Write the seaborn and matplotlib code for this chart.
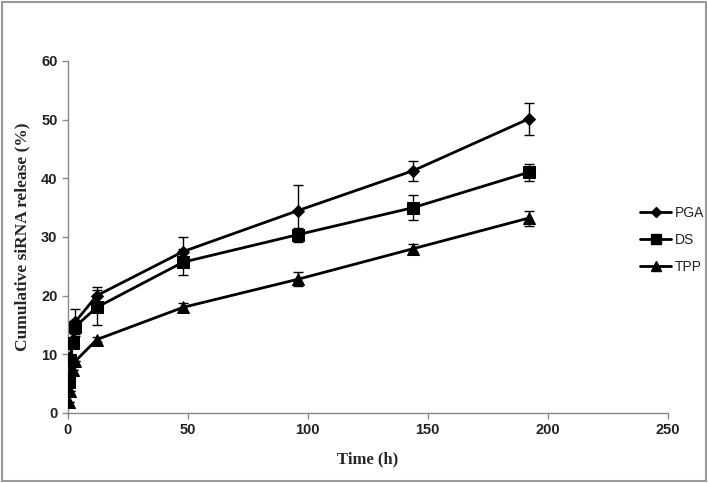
import numpy as np
import pandas as pd
import matplotlib
matplotlib.use("Agg")
import matplotlib.pyplot as plt
import seaborn as sns
from matplotlib.patches import Rectangle
from matplotlib.lines import Line2D

time = [0.5, 1, 2, 3, 12, 48, 96, 144, 192]
pga = [5.0, 9.5, 12.5, 15.5, 20.0, 27.5, 34.5, 41.3, 50.1]
pga_err = [0.0, 0.0, 0.0, 2.3, 1.4, 2.5, 4.4, 1.7, 2.8]
ds = [5.3, 9.0, 12.0, 14.7, 18.0, 25.7, 30.4, 35.0, 41.0]
ds_err = [0.5, 0.5, 0.6, 1.2, 3.0, 2.2, 1.2, 2.2, 1.4]
tpp = [1.8, 3.7, 7.3, 8.8, 12.5, 18.0, 22.8, 28.0, 33.2]
tpp_err = [0.0, 0.0, 0.0, 0.0, 0.4, 0.8, 1.2, 0.8, 1.3]
series = ["PGA", "DS", "TPP"]
x_ticks = [0, 50, 100, 150, 200, 250]
y_ticks = [0, 10, 20, 30, 40, 50, 60]

df = pd.DataFrame({
    "time": time * 3,
    "value": pga + ds + tpp,
    "err": pga_err + ds_err + tpp_err,
    "series": ["PGA"] * len(time) + ["DS"] * len(time) + ["TPP"] * len(time),
})

sns.set_style("white")
fig = plt.figure(figsize=(7.08, 4.83), dpi=100)
ax = fig.add_axes([0.096, 0.145, 0.847, 0.729])

markers = {"PGA": "D", "DS": "s", "TPP": "^"}
msizes = {"PGA": 6, "DS": 8, "TPP": 8}
for name in series:
    sub = df[df["series"] == name]
    ax.errorbar(sub["time"], sub["value"], yerr=sub["err"], fmt="none",
                ecolor="black", elinewidth=1.0, capsize=3.5, capthick=1.0, zorder=2)
    sns.lineplot(data=sub, x="time", y="value", ax=ax, color="black",
                 linewidth=2.0, marker=markers[name], markersize=msizes[name],
                 markeredgecolor="black", markerfacecolor="black",
                 legend=False, zorder=3)

ax.set_xlim(0, 250)
ax.set_ylim(0, 60)
ax.set_xticks(x_ticks)
ax.set_yticks(y_ticks)
ax.tick_params(axis="both", direction="out", length=4, width=1, color="#888888",
               labelsize=10.5, bottom=True, left=True, labelcolor="#222222")
for lab in ax.get_xticklabels() + ax.get_yticklabels():
    lab.set_fontweight("bold")
    lab.set_family("Liberation Sans")
for s in ["top", "right"]:
    ax.spines[s].set_visible(False)
for s in ["left", "bottom"]:
    ax.spines[s].set_color("#888888")
    ax.spines[s].set_linewidth(1.0)

ax.set_xlabel("Time (h)", fontsize=12, fontweight="bold", family="Liberation Serif", labelpad=10)
ax.set_ylabel("Cumulative siRNA release (%)", fontsize=12.5, fontweight="bold", family="Liberation Serif", labelpad=8)

handles = [Line2D([0], [0], color="black", linewidth=2, marker=markers[n],
                  markersize=msizes[n] - 1, markerfacecolor="black") for n in series]
leg = fig.legend(handles, series, loc="center left", bbox_to_anchor=(0.887, 0.503),
                 frameon=False, prop={"family": "Liberation Sans", "size": 10},
                 handlelength=2.2, handletextpad=0.3, labelspacing=0.95)
for t in leg.get_texts():
    t.set_color("#222222")

fig.patches.append(Rectangle((0.003, 0.004), 0.994, 0.992, transform=fig.transFigure,
                             fill=False, edgecolor="#999999", linewidth=1.5))

fig.savefig("out.png", dpi=100)
